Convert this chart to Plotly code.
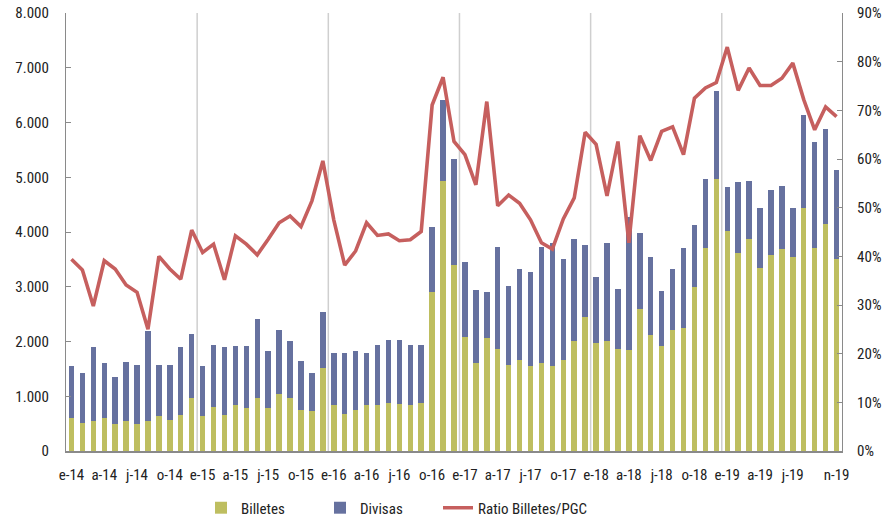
import plotly.graph_objects as go

# ---------------- data ----------------
years = ["14", "15", "16", "17", "18", "19"]
month_initials = ["e", "f", "m", "a", "m", "j", "j", "a", "s", "o", "n", "d"]

billetes = [609, 518, 548, 609, 500, 548, 500, 548, 640, 573, 658, 969,
            634, 810, 658, 841, 786, 969, 786, 1042, 969, 750, 725, 1511,
            835, 676, 750, 841, 841, 877, 859, 841, 877, 2907, 4936, 3400,
            2090, 1603, 2072, 1865, 1572, 1664, 1554, 1603, 1554, 1664, 2005, 2450,
            1974, 2005, 1865, 1846, 2590, 2121, 1920, 2212, 2255, 3004, 3711, 4973,
            4010, 3625, 3876, 3340, 3583, 3693, 3541, 4437, 3711, 4150, 3516]

divisas = [945, 908, 1348, 994, 853, 1073, 1078, 1652, 938, 1005, 1238, 1170,
           920, 1128, 1238, 1079, 1134, 1438, 1036, 1170, 1036, 895, 695, 1036,
           963, 1122, 1072, 957, 1091, 1152, 1170, 1091, 1055, 1188, 1481, 1933,
           1371, 1340, 829, 1870, 1439, 1663, 1724, 2132, 2243, 1841, 1865, 1310,
           1201, 1798, 1102, 2437, 1390, 1431, 1005, 1121, 1456, 1115, 1262, 1603,
           811, 1280, 1054, 1097, 1188, 1152, 896, 1706, 1938, 1731, 1616]

ratio = [39.4, 37.2, 29.8, 39.1, 37.4, 34.1, 32.6, 25.0, 40.0, 37.4, 35.3, 45.4,
         40.8, 42.5, 35.2, 44.2, 42.5, 40.3, 43.5, 46.9, 48.3, 46.1, 51.4, 59.6,
         47.5, 38.2, 41.1, 46.9, 44.3, 44.6, 43.2, 43.4, 45.1, 71.1, 76.8, 63.6,
         60.9, 54.7, 71.8, 50.4, 52.6, 50.9, 47.5, 42.8, 41.5, 47.7, 52.0, 65.5,
         63.0, 52.4, 63.6, 42.8, 64.8, 59.7, 65.7, 66.6, 60.9, 72.5, 74.6, 75.7,
         83.0, 74.1, 78.7, 75.1, 75.1, 76.6, 79.7, 72.2, 66.0, 70.7, 68.7]

left_ticks = [0, 1000, 2000, 3000, 4000, 5000, 6000, 7000, 8000]
left_ticktext = ["0", "1.000", "2.000", "3.000", "4.000", "5.000", "6.000", "7.000", "8.000"]
right_ticks = [0, 10, 20, 30, 40, 50, 60, 70, 80, 90]
right_ticktext = [f"{v}%" for v in right_ticks]

# month labels
labels = [f"{m}-{y}" for y in years for m in month_initials][:len(billetes)]
x = list(range(len(labels)))

# tick labels: every quarter start, plus the last month (o-19 replaced by n-19)
tick_idx = [i for i in x if i % 3 == 0 and i < len(x) - 4] + [len(x) - 1]
tick_text = [labels[i] for i in tick_idx]

# year separators
year_starts = [i for i in x if labels[i].startswith("e-") and i > 0]

FONT = "Liberation Sans Narrow, Roboto Condensed, Roboto, Arial Narrow, sans-serif"
FS = 15
C_BILL = "#BEBE60"
C_DIV = "#66719F"
C_RAT = "#C65F5E"
C_AX = "#8A8A8A"

fig = go.Figure()
fig.add_trace(go.Bar(x=x, y=billetes, name="Billetes", marker_color=C_BILL,
                     marker_line_width=0, legendwidth=74))
fig.add_trace(go.Bar(x=x, y=divisas, name="Divisas", marker_color=C_DIV,
                     marker_line_width=0, legendwidth=73))
fig.add_trace(go.Scatter(x=x, y=ratio, name="Ratio Billetes/PGC", mode="lines",
                         line=dict(color=C_RAT, width=3.6), yaxis="y2",
                         legendwidth=180))

shapes = [dict(type="line", xref="x", yref="paper", x0=i - 0.5, x1=i - 0.5,
               y0=0, y1=1, line=dict(color="#CFCFCF", width=1.5), layer="below")
          for i in year_starts]

fig.update_layout(
    width=887, height=521,
    margin=dict(l=66, r=45, t=13, b=70, autoexpand=False),
    paper_bgcolor="white", plot_bgcolor="white",
    barmode="stack", bargap=0.5,
    font=dict(family=FONT, size=FS, color="#222222"),
    shapes=shapes,
    showlegend=True,
    legend=dict(orientation="h", x=(201 - 66) / 776, xanchor="left",
                y=-0.13, yanchor="middle",
                font=dict(family=FONT, size=FS, color="#222222"),
                traceorder="normal"),
    xaxis=dict(range=[-0.5, len(x) - 0.5], tickmode="array", tickvals=tick_idx,
               ticktext=tick_text, showgrid=False, zeroline=False,
               showline=True, linecolor=C_AX, linewidth=1.5, ticks="",
               ticklabelstandoff=9, ticklabeloverflow="allow",
               tickfont=dict(size=FS)),
    yaxis=dict(range=[0, 8000], tickmode="array", tickvals=left_ticks,
               ticktext=left_ticktext, showgrid=False, zeroline=False,
               showline=True, linecolor=C_AX, linewidth=1.2,
               ticks="inside", ticklen=5, tickcolor=C_AX,
               ticklabelstandoff=13, ticklabeloverflow="allow",
               tickfont=dict(size=FS)),
    yaxis2=dict(range=[0, 90], overlaying="y", side="right", tickmode="array",
                tickvals=right_ticks, ticktext=right_ticktext, showgrid=False,
                zeroline=False, showline=True, linecolor=C_AX, linewidth=1.2,
                ticks="inside", ticklen=5, tickcolor=C_AX,
                ticklabelstandoff=11, ticklabeloverflow="allow",
                tickfont=dict(size=FS)),
)

# remove the default page margin so the figure sits at the window's top-left
fig.write_html("out.html", config={"displayModeBar": False},
               post_script="document.body.style.margin='0px';document.body.style.overflow='hidden';")
